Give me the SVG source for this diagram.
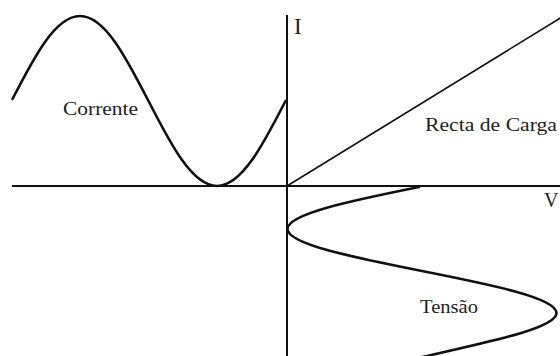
<svg xmlns="http://www.w3.org/2000/svg" width="560" height="356" viewBox="0 0 560 356">
<style>
.axis{stroke:#111;stroke-width:2;fill:none}
.curve{stroke:#111;stroke-width:2.6;fill:none;stroke-linecap:round}
.load{stroke:#111;stroke-width:1.6;fill:none}
.lbl{font-family:"Liberation Serif","Times New Roman",serif;font-size:18px;fill:#222}
.ax{font-family:"Liberation Serif","Times New Roman",serif;fill:#222}
</style>
<rect width="560" height="356" fill="#fff"/>
<g id="axes">
<line class="axis" x1="12" y1="186" x2="560" y2="186"/>
<line class="axis" x1="287" y1="15" x2="287" y2="356"/>
<text class="ax" x="294" y="34" font-size="23">I</text>
<text class="ax" x="544" y="207" font-size="20">V</text>
</g>
<g id="corrente">
<path class="curve" d="M12.5,99 C33.87,57.41 55.26,16 80,16 C104.74,16 126.13,57.41 148.5,101 C170.87,144.59 192.26,186 217,186 C241.74,186 263.13,144.59 285.5,101"/>
<text class="lbl" x="63" y="115" textLength="75" lengthAdjust="spacingAndGlyphs">Corrente</text>
</g>
<g id="recta">
<line class="load" x1="287" y1="186" x2="562" y2="17"/>
<text class="lbl" x="425" y="131" textLength="132" lengthAdjust="spacingAndGlyphs">Recta de Carga</text>
</g>
<g id="tensao">
<path class="curve" d="M419,187 C351,200.71 287.5,213.83 287.5,229 C287.5,244.17 353.03,257.29 422,271 C490.97,284.71 556.5,297.83 556.5,313 C556.5,328.17 490.97,341.29 418,358"/>
<text class="lbl" x="420" y="313" textLength="58" lengthAdjust="spacingAndGlyphs">Tensão</text>
</g>
</svg>
